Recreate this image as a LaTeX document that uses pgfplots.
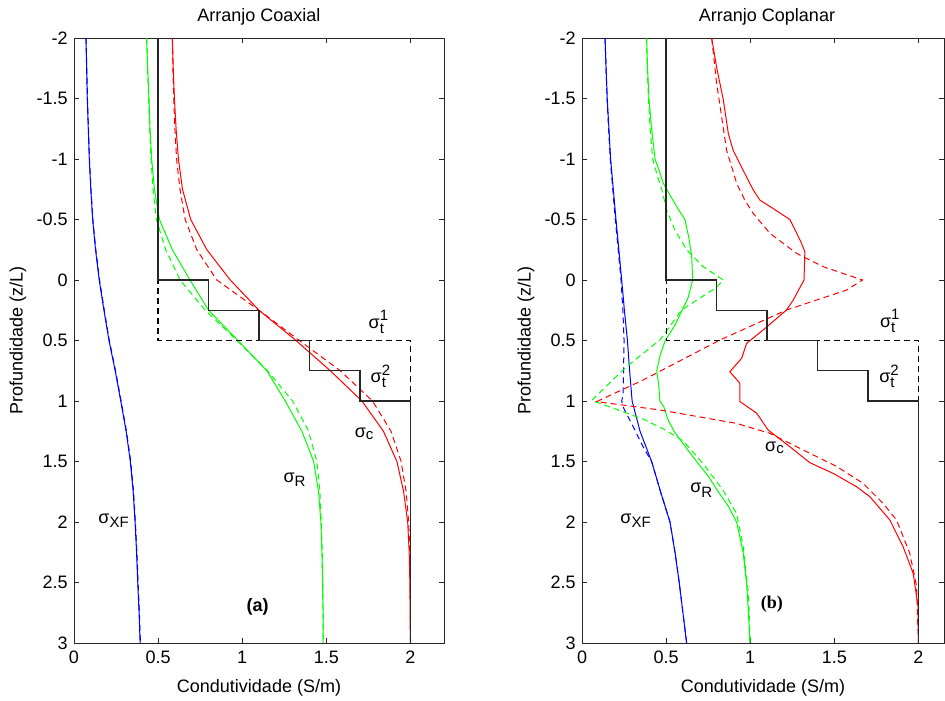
\documentclass[border=0pt]{standalone}
\usepackage{fontspec}
\setmainfont{Liberation Sans}
\newfontfamily\serifbf{Liberation Serif}
\usepackage{amsmath}
\usepackage{pgfplots}
\pgfplotsset{compat=1.18}
\DeclareMathSizes{9}{9}{7.5}{6}

\newcommand{\sig}[1]{$\text{σ}_{\text{#1}}$}
\newcommand{\sigt}[1]{$\text{σ}_{\text{t}}^{\text{#1}}$}

\tikzset{
  dsh/.style={dash pattern=on 3pt off 2pt},
  lab/.style={anchor=base west, inner sep=0pt, font=\fontsize{9}{11}\selectfont},
}

\begin{document}
\fontsize{9}{11}\selectfont
\begin{tikzpicture}
\pgfplotsset{
  panel/.style={
    scale only axis, height=302.5pt,
    xmin=0, ymin=-2, ymax=3, y dir=reverse,
    tick align=inside, tick pos=both, major tick length=2.5pt,
    xtick={0,0.5,1,1.5,2}, xticklabels={0,0.5,1,1.5,2},
    ytick={-2,-1.5,-1,-0.5,0,0.5,1,1.5,2,2.5,3},
    yticklabels={-2,-1.5,-1,-0.5,0,0.5,1,1.5,2,2.5,3},
    xticklabel shift=1pt,
    axis line style={black!85}, tick style={black!85},
    tick label style={font=\fontsize{9}{11}\selectfont},
    every axis plot/.append style={line width=0.5pt},
  },
}

% ---------------- (a) coaxial ----------------
\begin{axis}[panel, name=pa, at={(37pt,28.5pt)}, anchor=south west,
  width=185pt, xmax=2.2]
% sigma_XF
\addplot[blue] coordinates {(0.071,-2)(0.075,-1.75)(0.079,-1.5)(0.085,-1.25)(0.091,-1)(0.100,-0.75)(0.111,-0.5)(0.128,-0.25)(0.150,0)(0.178,0.25)(0.208,0.5)(0.245,0.75)(0.278,1)(0.310,1.25)(0.335,1.5)(0.352,1.75)(0.363,2)(0.372,2.25)(0.379,2.5)(0.387,2.75)(0.393,3)};
\addplot[blue,dsh] coordinates {(0.072,-2)(0.076,-1.75)(0.080,-1.5)(0.086,-1.25)(0.092,-1)(0.101,-0.75)(0.112,-0.5)(0.130,-0.25)(0.152,0)(0.180,0.25)(0.210,0.5)(0.247,0.75)(0.280,1)(0.312,1.25)(0.337,1.5)(0.354,1.75)(0.365,2)(0.374,2.25)(0.381,2.5)(0.389,2.75)(0.395,3)};
% sigma_R
\addplot[green] coordinates {(0.432,-2)(0.438,-1.75)(0.446,-1.5)(0.452,-1.25)(0.462,-1)(0.478,-0.75)(0.508,-0.5)(0.585,-0.25)(0.690,0)(0.800,0.25)(0.975,0.5)(1.147,0.75)(1.256,1)(1.355,1.25)(1.425,1.5)(1.454,1.75)(1.468,2)(1.474,2.25)(1.478,2.5)(1.481,2.75)(1.482,3)};
\addplot[green,dsh] coordinates {(0.432,-2)(0.437,-1.75)(0.444,-1.5)(0.450,-1.25)(0.458,-1)(0.470,-0.75)(0.490,-0.5)(0.545,-0.25)(0.631,0)(0.780,0.25)(0.970,0.5)(1.150,0.75)(1.300,1)(1.395,1.25)(1.444,1.5)(1.462,1.75)(1.470,2)(1.476,2.25)(1.479,2.5)(1.482,3)};
% sigma_c
\addplot[red] coordinates {(0.585,-2)(0.590,-1.75)(0.597,-1.5)(0.607,-1.25)(0.621,-1)(0.645,-0.75)(0.694,-0.5)(0.790,-0.25)(0.929,0)(1.100,0.25)(1.320,0.5)(1.524,0.75)(1.712,1)(1.840,1.25)(1.920,1.5)(1.960,1.75)(1.984,2)(1.993,2.25)(1.997,2.5)(2.0,3)};
\addplot[red,dsh] coordinates {(0.585,-2)(0.588,-1.75)(0.593,-1.5)(0.600,-1.25)(0.610,-1)(0.630,-0.75)(0.661,-0.5)(0.730,-0.25)(0.849,0)(1.100,0.25)(1.340,0.5)(1.583,0.75)(1.775,1)(1.885,1.25)(1.945,1.5)(1.975,1.75)(1.990,2)(1.997,2.25)(2.0,2.5)(2.0,3)};
% true model
\addplot[black,dsh,line width=0.6pt] coordinates {(0.5,-2)(0.5,0.5)(2,0.5)(2,3)};
\addplot[black!85,line width=0.65pt] coordinates {(0.5,-2)(0.5,0)(0.8,0)(0.8,0.25)(1.1,0.25)(1.1,0.5)(1.4,0.5)(1.4,0.75)(1.7,0.75)(1.7,1)(2,1)(2,3)};
\node[lab] at (axis cs:0.143,2.01) {\sig{XF}};
\node[lab] at (axis cs:1.244,1.67) {\sig{R}};
\node[lab] at (axis cs:1.667,1.30) {\sig{c}};
\node[lab] at (axis cs:1.750,0.40) {\sigt{1}};
\node[lab] at (axis cs:1.762,0.85) {\sigt{2}};
\node[font=\bfseries\fontsize{9}{11}\selectfont] at (axis cs:1.092,2.70) {(a)};
\end{axis}

% ---------------- (b) coplanar ----------------
\begin{axis}[panel, name=pb, at={(291pt,28.5pt)}, anchor=south west,
  width=181pt, xmax=2.1524]
% sigma_XF
\addplot[blue] coordinates {(0.137,-2)(0.143,-1.75)(0.150,-1.5)(0.160,-1.25)(0.170,-1)(0.186,-0.75)(0.202,-0.5)(0.219,-0.25)(0.236,0)(0.252,0.25)(0.270,0.5)(0.283,0.75)(0.298,1)(0.345,1.25)(0.414,1.5)(0.467,1.75)(0.523,2)(0.553,2.25)(0.578,2.5)(0.600,2.75)(0.622,3)};
\addplot[blue,dsh] coordinates {(0.137,-2)(0.143,-1.75)(0.149,-1.5)(0.158,-1.25)(0.168,-1)(0.183,-0.75)(0.198,-0.5)(0.215,-0.25)(0.232,0)(0.243,0.25)(0.250,0.5)(0.247,0.75)(0.244,0.95)(0.236,1.0)(0.248,1.06)(0.300,1.2)(0.364,1.38)(0.414,1.5)(0.467,1.75)(0.523,2)(0.553,2.25)(0.578,2.5)(0.600,2.75)(0.622,3)};
% sigma_R
\addplot[green] coordinates {(0.384,-2)(0.390,-1.75)(0.398,-1.5)(0.414,-1.25)(0.434,-1)(0.460,-0.9)(0.483,-0.8)(0.503,-0.75)(0.540,-0.66)(0.575,-0.58)(0.612,-0.5)(0.635,-0.35)(0.652,-0.2)(0.658,0)(0.630,0.15)(0.595,0.25)(0.550,0.38)(0.495,0.5)(0.465,0.62)(0.444,0.75)(0.455,0.85)(0.463,1.0)(0.487,1.05)(0.510,1.15)(0.547,1.25)(0.600,1.35)(0.681,1.5)(0.750,1.62)(0.810,1.75)(0.870,1.87)(0.919,2)(0.958,2.25)(0.978,2.5)(0.990,2.75)(0.998,3)};
\addplot[green,dsh] coordinates {(0.384,-2)(0.388,-1.75)(0.395,-1.5)(0.405,-1.25)(0.420,-1)(0.450,-0.85)(0.474,-0.75)(0.503,-0.58)(0.553,-0.41)(0.622,-0.25)(0.721,-0.11)(0.840,0)(0.800,0.06)(0.592,0.248)(0.463,0.496)(0.265,0.716)(0.057,0.995)(0.206,1.07)(0.364,1.15)(0.483,1.23)(0.602,1.33)(0.721,1.52)(0.840,1.74)(0.919,1.93)(0.958,2.2)(0.990,2.6)(1.0,3)};
% sigma_c
\addplot[red] coordinates {(0.771,-2)(0.800,-1.76)(0.840,-1.49)(0.870,-1.21)(0.899,-1.07)(0.939,-0.96)(0.968,-0.88)(1.018,-0.744)(1.058,-0.66)(1.137,-0.59)(1.236,-0.5)(1.300,-0.32)(1.325,-0.234)(1.320,0)(1.256,0.165)(1.216,0.248)(1.077,0.413)(0.979,0.523)(0.949,0.647)(0.879,0.758)(0.939,0.854)(0.939,1.005)(1.038,1.10)(1.107,1.24)(1.236,1.378)(1.355,1.51)(1.493,1.598)(1.632,1.708)(1.711,1.79)(1.830,1.983)(1.909,2.204)(1.969,2.424)(1.998,2.70)(2.0,3)};
\addplot[red,dsh] coordinates {(0.771,-2)(0.800,-1.63)(0.830,-1.35)(0.860,-1.07)(0.889,-0.94)(0.919,-0.80)(0.968,-0.66)(1.018,-0.55)(1.117,-0.386)(1.276,-0.22)(1.434,-0.11)(1.668,0)(1.573,0.083)(1.216,0.248)(0.820,0.496)(0.364,0.826)(0.087,1.005)(0.463,1.074)(0.919,1.185)(1.117,1.267)(1.315,1.405)(1.513,1.54)(1.671,1.68)(1.790,1.846)(1.870,1.983)(1.949,2.26)(1.989,2.53)(2.0,3)};
% true model
\addplot[black,dsh,line width=0.6pt] coordinates {(0.5,-2)(0.5,0.5)(2,0.5)(2,3)};
\addplot[black!85,line width=0.65pt] coordinates {(0.5,-2)(0.5,0)(0.8,0)(0.8,0.25)(1.1,0.25)(1.1,0.5)(1.4,0.5)(1.4,0.75)(1.7,0.75)(1.7,1)(2,1)(2,3)};
\node[lab] at (axis cs:0.226,2.01) {\sig{XF}};
\node[lab] at (axis cs:0.642,1.76) {\sig{R}};
\node[lab] at (axis cs:1.087,1.42) {\sig{c}};
\node[lab] at (axis cs:1.770,0.39) {\sigt{1}};
\node[lab] at (axis cs:1.765,0.85) {\sigt{2}};
\node[font=\serifbf\bfseries\fontsize{9}{11}\selectfont] at (axis cs:1.129,2.68) {(b)};
\end{axis}

% titles and axis labels
\node at ([yshift=10.5pt]pa.north) {Arranjo Coaxial};
\node at ([xshift=2pt,yshift=10.5pt]pb.north) {Arranjo Coplanar};
\node at ([yshift=-22.5pt]pa.south) {Condutividade (S/m)};
\node at ([yshift=-22.5pt]pb.south) {Condutividade (S/m)};
\node[rotate=90] at ([xshift=-28pt]pa.west) {Profundidade (z/L)};
\node[rotate=90] at ([xshift=-28pt]pb.west) {Profundidade (z/L)};

\pgfresetboundingbox
\path[use as bounding box] (0,0) rectangle (472.5pt,350pt);
\end{tikzpicture}
\end{document}
